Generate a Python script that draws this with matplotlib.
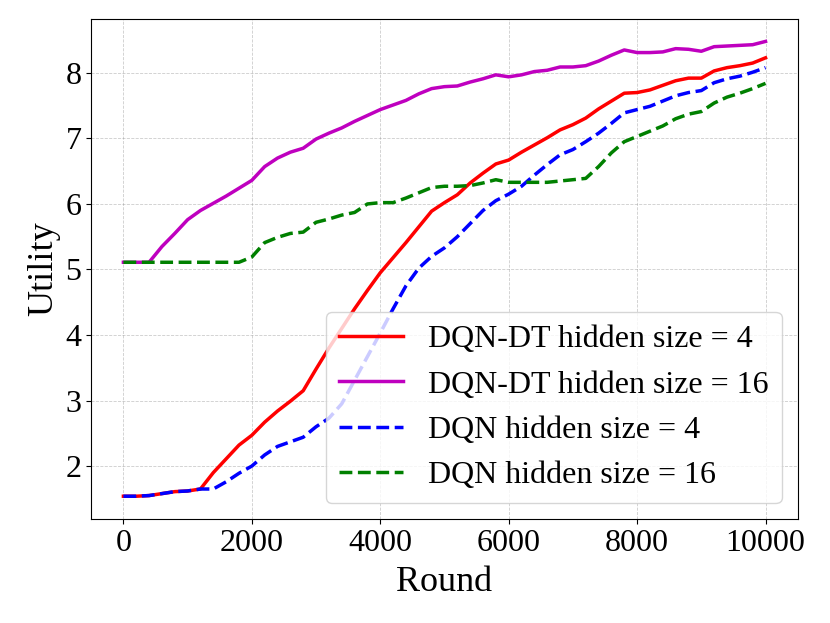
import numpy as np
import matplotlib
matplotlib.use('Agg')
import matplotlib.pyplot as plt
from matplotlib.ticker import MultipleLocator

plt.rcParams['font.family'] = ['Liberation Serif', 'DejaVu Serif']

# rounds (every 200)
rounds = np.arange(0, 10001, 200)

dqn_dt_4 = [1.54, 1.54, 1.55, 1.58, 1.61, 1.62, 1.65, 1.90, 2.11, 2.32,
            2.47, 2.67, 2.84, 2.99, 3.15, 3.48, 3.80, 4.10, 4.40, 4.68,
            4.95, 5.18, 5.41, 5.65, 5.89, 6.02, 6.14, 6.32, 6.47, 6.61,
            6.67, 6.79, 6.90, 7.01, 7.13, 7.21, 7.31, 7.45, 7.57, 7.69,
            7.70, 7.74, 7.81, 7.88, 7.92, 7.92, 8.03, 8.08, 8.11, 8.15,
            8.23]

dqn_dt_16 = [5.11, 5.11, 5.11, 5.35, 5.55, 5.76, 5.90, 6.01, 6.12, 6.24,
             6.36, 6.57, 6.70, 6.79, 6.85, 6.99, 7.08, 7.16, 7.26, 7.35,
             7.44, 7.51, 7.58, 7.68, 7.76, 7.79, 7.80, 7.86, 7.91, 7.97,
             7.94, 7.97, 8.02, 8.04, 8.09, 8.09, 8.11, 8.18, 8.27, 8.35,
             8.31, 8.31, 8.32, 8.37, 8.36, 8.33, 8.40, 8.41, 8.42, 8.43,
             8.48]

dqn_4 = [1.54, 1.54, 1.55, 1.58, 1.61, 1.62, 1.65, 1.65, 1.76, 1.89,
         2.00, 2.17, 2.30, 2.37, 2.44, 2.60, 2.73, 2.95, 3.31, 3.67,
         4.03, 4.40, 4.75, 5.02, 5.20, 5.33, 5.50, 5.70, 5.90, 6.05,
         6.15, 6.27, 6.44, 6.60, 6.75, 6.83, 6.95, 7.08, 7.23, 7.39,
         7.44, 7.49, 7.57, 7.65, 7.70, 7.73, 7.85, 7.91, 7.95, 8.01,
         8.08]

dqn_16 = [5.11, 5.11, 5.11, 5.11, 5.11, 5.11, 5.11, 5.11, 5.11, 5.11,
          5.19, 5.41, 5.49, 5.55, 5.57, 5.72, 5.77, 5.83, 5.87, 6.00,
          6.02, 6.02, 6.09, 6.17, 6.25, 6.27, 6.27, 6.28, 6.32, 6.37,
          6.33, 6.33, 6.33, 6.33, 6.35, 6.37, 6.39, 6.57, 6.78, 6.95,
          7.03, 7.11, 7.19, 7.30, 7.37, 7.41, 7.54, 7.63, 7.69, 7.76,
          7.84]

fig, ax = plt.subplots(figsize=(8.3, 6.23), dpi=100)
fig.subplots_adjust(left=0.11, right=0.961, top=0.970, bottom=0.167)

ax.plot(rounds, dqn_dt_4, 'r-', lw=2.5, label='DQN-DT hidden size = 4')
ax.plot(rounds, dqn_dt_16, 'm-', lw=2.5, label='DQN-DT hidden size = 16')
ax.plot(rounds, dqn_4, 'b--', lw=2.5, label='DQN hidden size = 4')
ax.plot(rounds, dqn_16, 'g--', lw=2.5, label='DQN hidden size = 16')

ax.yaxis.set_major_locator(MultipleLocator(1))
ax.grid(True, linestyle='--', color='gray', alpha=0.4, lw=0.6)
ax.tick_params(labelsize=23)
ax.set_xlabel('Round', fontsize=26, labelpad=6)
ax.set_ylabel('Utility', fontsize=26)
ax.legend(loc='lower right', fontsize=23)

plt.savefig('out.png', dpi=100)
